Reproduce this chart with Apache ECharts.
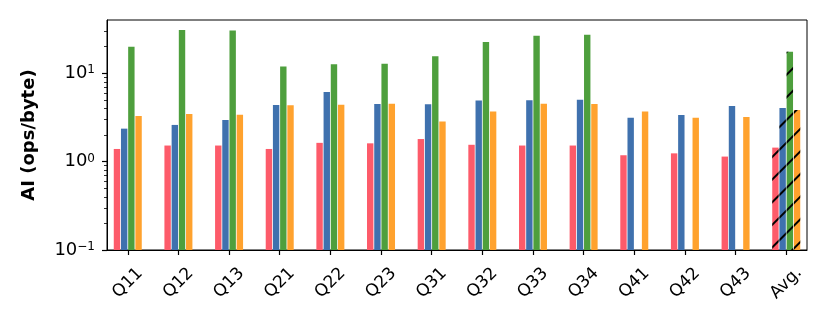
<!DOCTYPE html>
<html>
<head>
<meta charset="utf-8">
<script src="https://cdn.jsdelivr.net/npm/echarts@6/dist/echarts.min.js"></script>
<style>
html,body{margin:0;padding:0;background:#fff;}
#main{width:830px;height:332px;}
</style>
</head>
<body>
<div id="main"></div>
<script>
// categories and values
var categories = ['Q11','Q12','Q13','Q21','Q22','Q23','Q31','Q32','Q33','Q34','Q41','Q42','Q43','Avg.'];
var redVals    = [1.39, 1.52, 1.52, 1.39, 1.63, 1.61, 1.80, 1.55, 1.52, 1.52, 1.18, 1.24, 1.14, 1.44];
var blueVals   = [2.36, 2.60, 2.96, 4.37, 6.15, 4.49, 4.45, 4.90, 4.95, 5.00, 3.14, 3.37, 4.26, 4.04];
var greenVals  = [19.9, 30.8, 30.5, 11.9, 12.6, 12.8, 15.6, 22.5, 26.5, 27.2, null, null, null, 17.5];
var orangeVals = [3.28, 3.46, 3.40, 4.33, 4.40, 4.52, 2.85, 3.70, 4.50, 4.49, 3.70, 3.14, 3.20, 3.84];
var yMin = 0.1, yMax = 40;
var yTickVals  = [0.1, 1, 10];
var yTickExp   = ['\u22121', '0', '1'];
var yMinorVals = [0.2,0.3,0.4,0.5,0.6,0.7,0.8,0.9,2,3,4,5,6,7,8,9,20,30];

var colors = ['#fd5b6a', '#3f71ae', '#4e9f3d', '#ffa22e'];
var fontName = 'DejaVu Sans';

// bars on an ECharts log axis grow from 1, so the y axis is a value axis
// in decades above yMin and every value goes through this mapping
function toDec(v){ return Math.log10(v) - Math.log10(yMin); }

var hatch = {
    symbol: 'rect',
    symbolSize: 1,
    color: '#000',
    dashArrayX: [1, 0],
    dashArrayY: [2, 13.5],
    rotation: -Math.PI / 4
};

function makeData(vals){
    var out = [];
    for (var i = 0; i < vals.length; i++) {
        var y = vals[i] == null ? '-' : toDec(vals[i]);
        if (categories[i] == 'Avg.') {
            out.push({ value: [i, y], itemStyle: { decal: hatch } });
        } else {
            out.push([i, y]);
        }
    }
    return out;
}

function makeSeries(name, vals, idx){
    return {
        name: name,
        type: 'bar',
        xAxisIndex: 0,
        yAxisIndex: 0,
        barWidth: 6.4,
        barGap: '12.5%',
        itemStyle: { color: colors[idx] },
        data: makeData(vals)
    };
}

var myChart = echarts.init(document.getElementById('main'), null, { renderer: 'canvas' });

var catIdx = categories.map(function(c, i){ return i; });

var option = {
    backgroundColor: '#fff',
    animation: false,
    textStyle: { fontFamily: fontName },
    grid: {
        left: 107, right: 23, top: 20, bottom: 82,
        show: true, borderColor: '#000', borderWidth: 1, backgroundColor: 'transparent'
    },
    xAxis: [{
        type: 'value',
        min: -0.41,
        max: 13.41,
        splitLine: { show: false },
        axisLine: { show: true, onZero: false, lineStyle: { color: '#000', width: 1 } },
        axisTick: { show: true, customValues: catIdx, length: 5, lineStyle: { color: '#000', width: 1.2 } },
        axisLabel: {
            customValues: catIdx,
            formatter: function(v){ return categories[Math.round(v)]; },
            rotate: 45,
            align: 'center',
            verticalAlign: 'middle',
            margin: 33,
            fontSize: 17,
            color: '#000',
            fontFamily: fontName
        }
    }],
    yAxis: [{
        type: 'value',
        min: 0,
        max: toDec(yMax),
        name: 'AI (ops/byte)',
        nameLocation: 'middle',
        nameGap: 69,
        nameTextStyle: { fontSize: 18, fontWeight: 'bold', color: '#000', fontFamily: fontName },
        splitLine: { show: false },
        axisLine: { show: true, onZero: false, lineStyle: { color: '#000', width: 1 } },
        axisTick: { show: true, customValues: yTickVals.map(toDec), length: 5, lineStyle: { color: '#000', width: 1.2 } },
        axisLabel: {
            customValues: yTickVals.map(toDec),
            formatter: function(v){
                for (var i = 0; i < yTickVals.length; i++) {
                    if (Math.abs(v - toDec(yTickVals[i])) < 1e-6) return '{b|10}{s|' + yTickExp[i] + '}';
                }
                return '';
            },
            margin: 12,
            color: '#000',
            fontFamily: fontName,
            rich: {
                b: { fontSize: 18, lineHeight: 18, color: '#000', fontFamily: fontName },
                s: { fontSize: 12, lineHeight: 12, verticalAlign: 'top', color: '#000', fontFamily: fontName }
            }
        }
    }, {
        // minor ticks only
        type: 'value',
        min: 0,
        max: toDec(yMax),
        position: 'left',
        splitLine: { show: false },
        axisLine: { show: false, onZero: false },
        axisLabel: { show: false },
        axisTick: { show: true, customValues: yMinorVals.map(toDec), length: 3, lineStyle: { color: '#000', width: 0.8 } }
    }],
    series: [
        makeSeries('red', redVals, 0),
        makeSeries('blue', blueVals, 1),
        makeSeries('green', greenVals, 2),
        makeSeries('orange', orangeVals, 3)
    ]
};

myChart.setOption(option);
</script>
</body>
</html>
